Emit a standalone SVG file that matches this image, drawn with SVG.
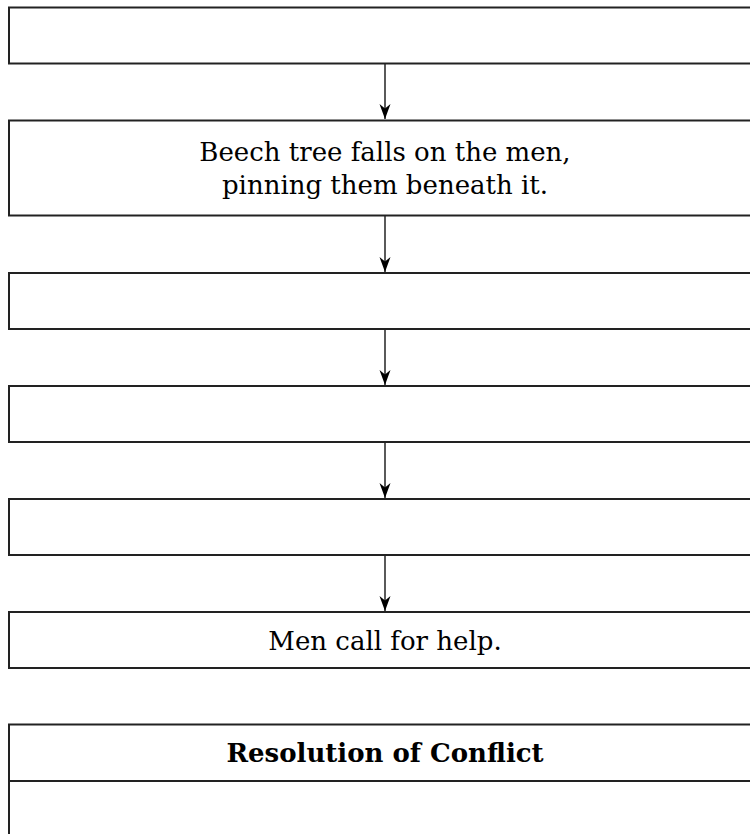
<svg xmlns="http://www.w3.org/2000/svg" width="750" height="834" viewBox="0 0 750 834">
  <style>
    .box { fill: #ffffff; stroke: #222222; stroke-width: 2; }
    .link { stroke: #000000; stroke-width: 1.3; fill: none; marker-end: url(#head); }
    .label { font-family: "DejaVu Serif", "Liberation Serif", serif; font-size: 26px; fill: #000000; text-anchor: middle; }
    .title { font-family: "DejaVu Serif", "Liberation Serif", serif; font-size: 26px; font-weight: bold; fill: #000000; text-anchor: middle; }
  </style>
  <defs>
    <!-- arrowhead drawn along +x, aligned to the line direction -->
    <marker id="head" markerWidth="16" markerHeight="12" refX="15" refY="6" orient="auto" markerUnits="userSpaceOnUse" viewBox="0 0 16 12">
      <path d="M0,0.5 L15,6 L0,11.5 L4.5,6 Z" fill="#000000"/>
    </marker>
  </defs>
  <rect width="750" height="834" fill="#ffffff"/>

  <g id="connectors">
    <line class="link" x1="385" y1="64" x2="385" y2="119"/>
    <line class="link" x1="385" y1="216" x2="385" y2="272"/>
    <line class="link" x1="385" y1="330" x2="385" y2="385"/>
    <line class="link" x1="385" y1="443" x2="385" y2="498"/>
    <line class="link" x1="385" y1="556" x2="385" y2="611"/>
  </g>

  <g id="event1">
    <rect class="box" x="9" y="7.5" width="760" height="56"/>
  </g>
  <g id="event2">
    <rect class="box" x="9" y="120.5" width="760" height="95"/>
    <text class="label" x="385" y="161">Beech tree falls on the men,</text>
    <text class="label" x="385" y="194">pinning them beneath it.</text>
  </g>
  <g id="event3">
    <rect class="box" x="9" y="273" width="760" height="56"/>
  </g>
  <g id="event4">
    <rect class="box" x="9" y="386" width="760" height="56"/>
  </g>
  <g id="event5">
    <rect class="box" x="9" y="499" width="760" height="56"/>
  </g>
  <g id="event6">
    <rect class="box" x="9" y="612" width="760" height="56"/>
    <text class="label" x="385" y="650">Men call for help.</text>
  </g>
  <g id="resolution">
    <rect class="box" x="9" y="724.5" width="760" height="56.5"/>
    <rect class="box" x="9" y="781" width="760" height="70"/>
    <text class="title" x="385" y="762">Resolution of Conflict</text>
  </g>
</svg>
